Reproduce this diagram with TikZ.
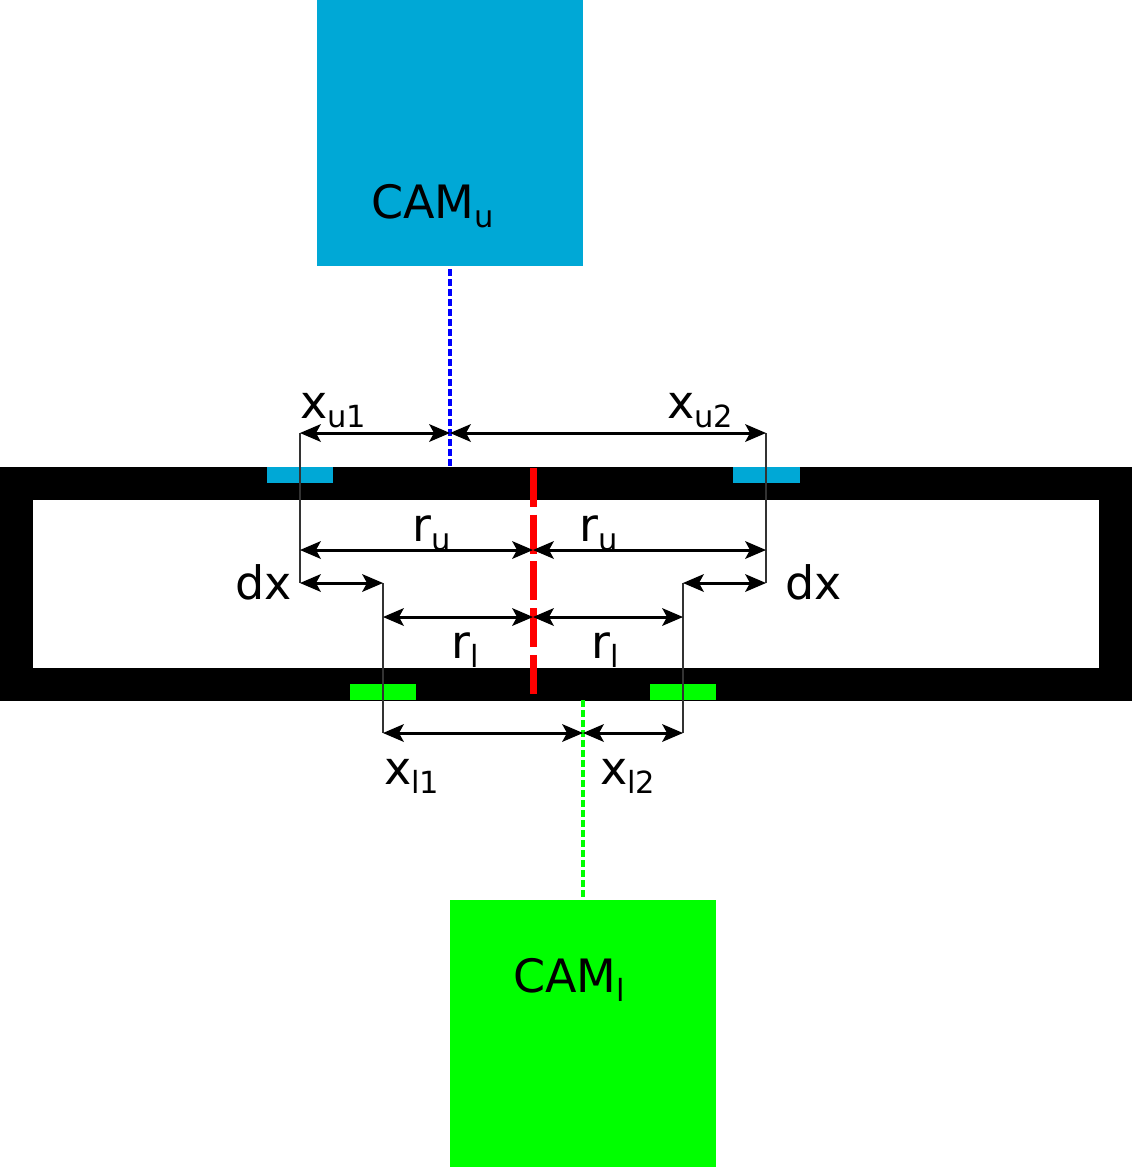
\documentclass[tikz,border=0pt]{standalone}
\usepackage{fontspec}
\setmainfont{DejaVu Sans}
\usetikzlibrary{arrows.meta,positioning}
\definecolor{camblue}{RGB}{0,168,214}
\definecolor{camgreen}{RGB}{0,255,0}
\newcommand{\lowtext}[1]{\raisebox{-9pt}{\fontsize{30.5}{30.5}\selectfont #1}}
\begin{document}
\begin{tikzpicture}[x=1pt,y=-1pt,
block/.style={
rectangle,
inner sep=0pt,
outer sep=0pt,
anchor=north west
},
txt/.style={
inner sep=0pt,
anchor=base west,
font=\fontsize{46}{46}\selectfont
},
to/.style={<->,>={Stealth[length=21pt,width=18pt,inset=5pt,line width=0pt]},line width=3pt},
guide/.style={line width=1.3pt,draw=black!80},
]
\useasboundingbox (0,0) rectangle (1132,1167);
% frame
\node (outer) at (0,467) [block,fill=black,minimum width=1132pt,minimum height=234pt] {};
\node (inner) at (33,500) [block,fill=white,minimum width=1066pt,minimum height=168pt] {};
% cameras
\node (camu) at (317,0) [block,fill=camblue,minimum width=266pt,minimum height=266pt] {};
\node (caml) at (450,900) [block,fill=camgreen,minimum width=266pt,minimum height=267pt] {};
% marks on the frame
\node (padua) at (267,467) [block,fill=camblue,minimum width=66pt,minimum height=16pt] {};
\node (padub) at (733,467) [block,fill=camblue,minimum width=67pt,minimum height=16pt] {};
\node (padla) at (350,684) [block,fill=camgreen,minimum width=66pt,minimum height=16pt] {};
\node (padlb) at (650,684) [block,fill=camgreen,minimum width=66pt,minimum height=16pt] {};
% points
\coordinate (topu) at (450,467);
\coordinate (botl) at (583,700);
\coordinate (axa) at (533.3,468);
\coordinate (axb) at (533.3,693.5);
\coordinate (ua) at (300,433);
\coordinate (uc) at (450,433);
\coordinate (ub) at (766,433);
\coordinate (ra) at (300,550);
\coordinate (rm) at (533,550);
\coordinate (rb) at (766,550);
\coordinate (da) at (300,583);
\coordinate (db) at (383,583);
\coordinate (dc) at (683,583);
\coordinate (dd) at (766,583);
\coordinate (sa) at (383,617);
\coordinate (sm) at (533,617);
\coordinate (sb) at (683,617);
\coordinate (la) at (383,733);
\coordinate (lc) at (583,733);
\coordinate (lb) at (683,733);
% lines of sight and axis
\draw[blue,line width=3.3pt,dash pattern=on 6.7pt off 3.3pt,dash phase=6.7pt] (camu.south) -- (topu);
\draw[camgreen,line width=3.3pt,dash pattern=on 6.7pt off 3.3pt] (botl) -- (caml.north);
\draw[red,line width=6.7pt,dash pattern=on 39pt off 7.7pt] (axa) -- (axb);
% guides
\draw[guide] (ua) -- (da);
\draw[guide] (ub) -- (dd);
\draw[guide] (db) -- (la);
\draw[guide] (dc) -- (lb);
% dimensions
\draw[to] (ua) -- (uc);
\draw[to] (uc) -- (ub);
\draw[to] (ra) -- (rm);
\draw[to] (rm) -- (rb);
\draw[to] (da) -- (db);
\draw[to] (dc) -- (dd);
\draw[to] (sa) -- (sm);
\draw[to] (sm) -- (sb);
\draw[to] (la) -- (lc);
\draw[to] (lc) -- (lb);
% labels
\node (tcamu) at (371,218) [txt] {CAM\lowtext{u}};
\node (tcaml) at (513,992) [txt] {CAM\lowtext{l}};
\node (txua) at (300,418) [txt] {x\lowtext{u1}};
\node (txub) at (667,418) [txt] {x\lowtext{u2}};
\node (trua) at (412.5,541) [txt] {r\lowtext{u}};
\node (trub) at (579.5,541) [txt] {r\lowtext{u}};
\node (tdxa) at (235,599) [txt] {dx};
\node (tdxb) at (785,599) [txt] {dx};
\node (trla) at (451,658) [txt] {r\lowtext{l}};
\node (trlb) at (591,658) [txt] {r\lowtext{l}};
\node (txla) at (384,784) [txt] {x\lowtext{l1}};
\node (txlb) at (600,784) [txt] {x\lowtext{l2}};
\end{tikzpicture}
\end{document}
